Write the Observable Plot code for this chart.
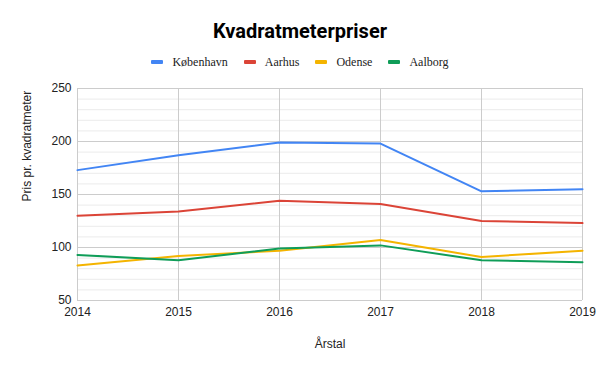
<!DOCTYPE html>
<html><head><meta charset="utf-8">
<script src="https://cdn.jsdelivr.net/npm/d3@7"></script>
<script src="https://cdn.jsdelivr.net/npm/@observablehq/plot@0.6"></script>
<style>
body{margin:0;background:#fff;}
#wrap{width:600px;height:371px;position:relative;overflow:hidden;}
#title{position:absolute;left:0;top:19px;width:600px;text-align:center;font:bold 20px Roboto,sans-serif;color:#000;line-height:24px;}
#legend{position:absolute;left:0;width:600px;top:54px;height:16px;display:flex;justify-content:center;align-items:center;font:12px "Liberation Serif",serif;color:#222;white-space:nowrap;}
#legend .it{display:flex;align-items:center;margin:0 8px;}
#legend .sw{width:12px;height:4px;border-radius:1px;margin-right:9px;}
#chart{position:absolute;left:0;top:75px;}
</style></head>
<body><div id="wrap"><div id="title"></div><div id="legend"></div><div id="chart"></div></div>
<script>
const title = "Kvadratmeterpriser";
const years = [2014, 2015, 2016, 2017, 2018, 2019];
const seriesNames = ["København", "Aarhus", "Odense", "Aalborg"];
const colors = ["#4285F4", "#DB4437", "#F4B400", "#0F9D58"];
const kobenhavn = [173, 187, 199, 198, 153, 155];
const aarhus = [130, 134, 144, 141, 125, 123];
const odense = [83, 92, 97, 107, 91, 97];
const aalborg = [93, 88, 99, 102, 88, 86];
const majorTicks = [50, 100, 150, 200, 250];
const minorTicks = [60, 70, 80, 90, 110, 120, 130, 140, 160, 170, 180, 190, 210, 220, 230, 240];
const xLabel = "Årstal";
const yLabel = "Pris pr. kvadratmeter";

document.getElementById("title").textContent = title;
const leg = document.getElementById("legend");
seriesNames.forEach((n, i) => {
  const it = document.createElement("div"); it.className = "it";
  const sw = document.createElement("div"); sw.className = "sw"; sw.style.background = colors[i];
  const t = document.createElement("span"); t.textContent = n;
  it.appendChild(sw); it.appendChild(t); leg.appendChild(it);
});

const allValues = [kobenhavn, aarhus, odense, aalborg];
const data = [];
seriesNames.forEach((n, i) => years.forEach((y, j) => data.push({series: n, year: y, value: allValues[i][j]})));

const chart = Plot.plot({
  width: 600, height: 296,
  marginLeft: 77, marginRight: 18, marginTop: 13, marginBottom: 71,
  style: {fontFamily: "'Liberation Sans', Arial, sans-serif", fontSize: "12px", color: "#222"},
  x: {domain: [2014, 2019], ticks: years, tickFormat: d => String(d)},
  y: {domain: [50, 250], ticks: majorTicks},
  color: {domain: seriesNames, range: colors},
  marks: [
    Plot.gridY(minorTicks, {stroke: "#ebebeb", strokeOpacity: 1}),
    Plot.gridY(majorTicks, {stroke: "#cccccc", strokeOpacity: 1}),
    Plot.gridX(years, {stroke: "#cccccc", strokeOpacity: 1}),
    Plot.axisX(years, {tickSize: 0, tickPadding: 7, label: null, tickFormat: d => String(d), fill: "#222"}),
    Plot.axisY(majorTicks, {tickSize: 0, tickPadding: 6, label: null, fill: "#222"}),
    Plot.line(data, {x: "year", y: "value", z: "series", stroke: "series", strokeWidth: 2}),
    Plot.text([xLabel], {frameAnchor: "bottom", dy: 47, text: d => d, fill: "#222", fontSize: 12}),
    Plot.text([yLabel], {frameAnchor: "left", dx: -50, dy: 7, rotate: -90, text: d => d, fill: "#222", fontSize: 12})
  ]
});
document.getElementById("chart").appendChild(chart);
</script></body></html>
